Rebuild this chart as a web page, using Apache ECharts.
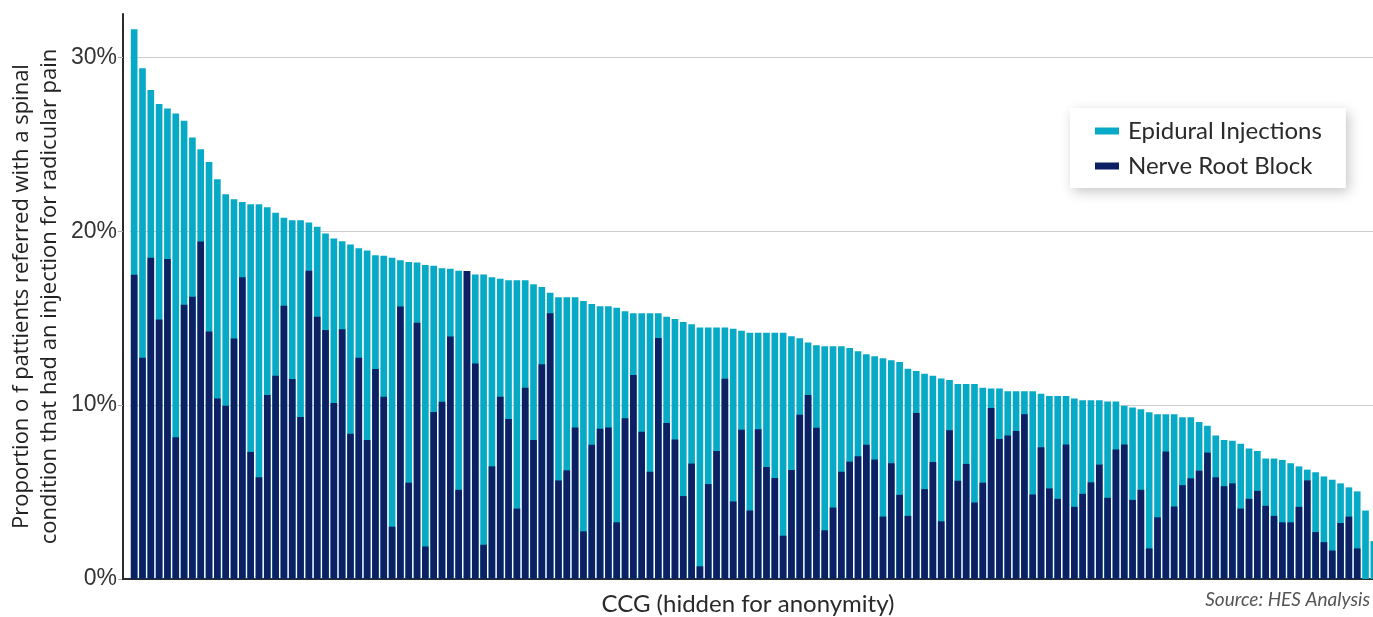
<!DOCTYPE html>
<html>
<head>
<meta charset="utf-8">
<script src="https://cdn.jsdelivr.net/npm/echarts@6/dist/echarts.min.js"></script>
<style>
html,body{margin:0;padding:0;background:#fff;}
#chart{width:1373px;height:617px;}
</style>
</head>
<body>
<div id="chart"></div>
<script>
// Data (percent of patients), sorted by Epidural Injections
const epidural = [
  31.62,29.38,28.13,27.32,27.07,26.78,26.36,25.39,24.72,23.98,
  23.00,22.13,21.84,21.69,21.55,21.55,21.38,21.07,20.78,20.64,
  20.64,20.51,20.26,19.87,19.58,
  19.43,19.24,19.02,18.89,18.62,18.60,18.48,18.33,18.23,18.21,
  18.06,18.02,17.87,17.85,17.73,17.71,17.52,17.52,17.36,17.27,
  17.19,17.19,17.19,16.96,16.79,
  16.46,16.21,16.21,16.21,15.99,15.82,15.69,15.69,15.61,15.40,
  15.28,15.28,15.28,15.28,15.09,14.95,14.78,14.66,14.47,14.47,
  14.47,14.47,14.39,14.28,14.16,
  14.16,14.16,14.16,14.16,13.97,13.85,13.60,13.45,13.39,13.39,
  13.39,13.29,13.10,12.93,12.81,12.70,12.58,12.48,12.10,11.96,
  11.81,11.69,11.54,11.44,11.21,
  11.21,11.21,11.00,10.96,10.96,10.80,10.80,10.80,10.80,10.65,
  10.53,10.53,10.53,10.38,10.28,10.28,10.28,10.21,10.21,9.96,
  9.86,9.76,9.59,9.47,9.47,9.47,
  9.30,9.30,9.03,8.82,8.26,7.99,7.95,7.78,7.51,7.37,
  6.93,6.93,6.85,6.66,6.48,6.29,6.14,5.90,5.71,5.50,
  5.27,5.04,3.94,2.18
];
const nerveRootBlock = [
  17.50,12.73,18.48,14.93,18.41,8.16,15.78,16.23,19.41,14.24,
  10.38,9.96,13.83,17.36,7.31,5.85,10.59,11.69,15.72,11.50,
  9.32,17.73,15.09,14.32,10.13,
  14.37,8.35,12.73,7.99,12.08,10.48,3.01,15.67,5.54,14.74,
  1.87,9.61,10.19,13.95,5.13,17.71,12.39,1.97,6.48,10.48,
  9.20,4.05,11.00,7.99,12.35,
  15.28,5.67,6.25,8.72,2.74,7.72,8.64,8.72,3.26,9.24,
  11.73,8.47,6.17,13.87,8.97,8.03,4.77,6.64,0.73,5.46,
  7.37,11.52,4.46,8.59,3.94,
  8.62,6.44,5.81,2.49,6.27,9.45,10.59,8.70,2.80,4.11,
  6.17,6.75,7.06,7.72,6.87,3.59,6.66,4.84,3.63,9.55,
  5.17,6.73,3.32,8.55,5.65,
  6.62,4.40,5.54,9.84,8.05,8.26,8.51,9.47,4.86,7.58,
  5.21,4.61,7.74,4.15,4.90,5.56,6.58,4.67,7.45,7.74,
  4.55,5.13,1.76,3.55,7.33,4.17,
  5.40,5.79,6.23,7.27,5.85,5.34,5.50,4.05,4.61,5.07,
  4.21,3.63,3.26,3.26,4.15,5.67,2.70,2.12,1.64,3.22,
  3.59,1.76,0,0
];
// Anonymised CCG identifiers (hidden on the chart)
const categories = epidural.map((_, i) => 'CCG ' + (i + 1));
const yTicks = [0, 10, 20, 30];
const seriesNames = ['Epidural Injections', 'Nerve Root Block'];
const yTitle = 'Proportion o f pattients referred with a spinal\ncondition that had an injection for radicular pain';
const xTitle = 'CCG (hidden for anonymity)';
const sourceText = 'Source: HES Analysis';

const chart = echarts.init(document.getElementById('chart'), null, {renderer: 'canvas'});
chart.setOption({
  animation: false,
  backgroundColor: '#ffffff',
  grid: {left: 130, right: -5, top: 14, bottom: 38, containLabel: false, outerBoundsMode: 'none'},
  legend: {
    orient: 'vertical',
    left: 1070, top: 108,
    padding: [10, 24, 9, 25],
    backgroundColor: '#ffffff',
    shadowColor: 'rgba(0,0,0,0.22)',
    shadowBlur: 12,
    shadowOffsetX: 3,
    shadowOffsetY: 4,
    itemWidth: 24, itemHeight: 7, itemGap: 9,
    icon: 'rect',
    textStyle: {fontFamily: 'Lato', fontSize: 24, color: '#2a2a2a', lineHeight: 26, padding: [0, 0, 0, 4]},
    data: seriesNames
  },
  xAxis: {
    type: 'category',
    data: categories,
    boundaryGap: true,
    axisLine: {show: true, lineStyle: {color: '#2b2b2b', width: 2}},
    axisTick: {show: false},
    axisLabel: {show: false},
    splitLine: {show: false},
    name: xTitle,
    nameLocation: 'middle',
    nameGap: 13,
    nameTextStyle: {fontFamily: 'Lato', fontSize: 24, color: '#2a2a2a', padding: [0, 12, 0, 0]}
  },
  yAxis: {
    type: 'value',
    min: 0, max: 32.5, interval: 10,
    offset: 7,
    axisLine: {show: true, lineStyle: {color: '#2b2b2b', width: 2}},
    axisTick: {show: true, length: 5, lineStyle: {color: '#aaaaaa'}, customValues: yTicks},
    axisLabel: {
      formatter: '{value}%', customValues: yTicks,
      fontFamily: 'Liberation Sans', fontSize: 23, color: '#333333', margin: 6,
      padding: [0, 0, 4, 0]
    },
    splitLine: {show: true, lineStyle: {color: ['#cccccc','#cccccc','#cccccc','#cccccc','rgba(0,0,0,0)'], width: 1}},
    name: yTitle,
    nameLocation: 'middle',
    nameRotate: 90,
    nameGap: 59,
    nameMoveOverlap: false,
    nameTextStyle: {fontFamily: 'Open Sans', fontSize: 22, color: '#222222', lineHeight: 28, align: 'center'}
  },
  series: [
    {
      name: seriesNames[0], type: 'bar', data: epidural,
      barWidth: '80%', barGap: '-100%',
      itemStyle: {color: '#07aac6'}, z: 2
    },
    {
      name: seriesNames[1], type: 'bar', data: nerveRootBlock,
      barWidth: '80%', barGap: '-100%',
      itemStyle: {color: '#0d2064'}, z: 3
    }
  ],
  graphic: [
    {type: 'line', shape: {x1: 122, y1: 579, x2: 131, y2: 579}, style: {stroke: '#2b2b2b', lineWidth: 2}, z: 10},
    {type: 'text', right: 3, top: 590, style: {text: sourceText, font: 'italic 19px Lato', fill: '#555555', textAlign: 'right'}}
  ]
});
</script>
</body>
</html>
